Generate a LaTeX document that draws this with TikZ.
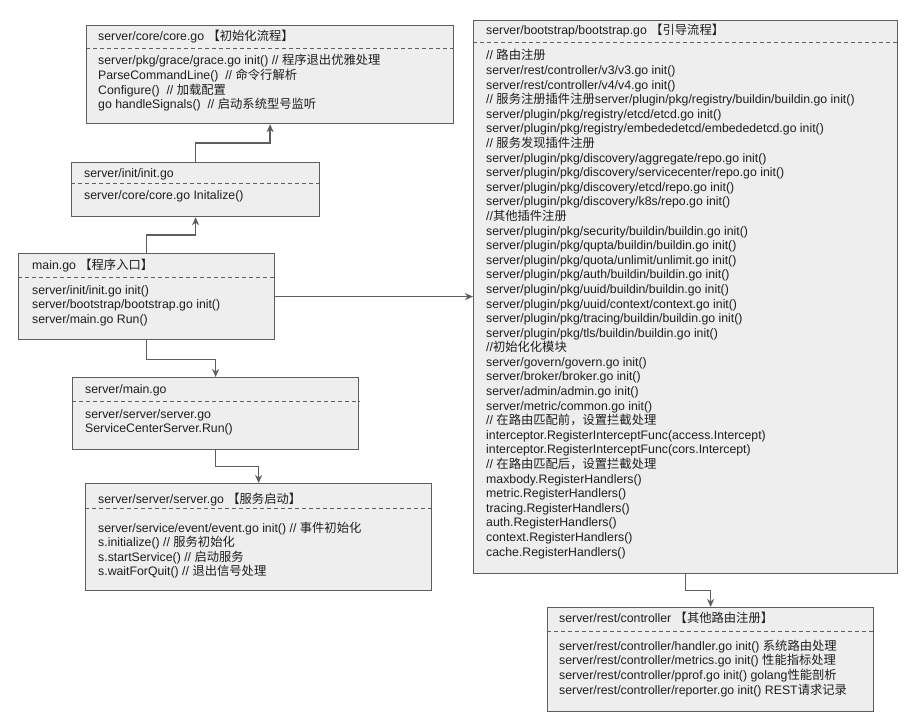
\documentclass[tikz,border=0pt]{standalone}
\usepackage{fontspec}
\setmainfont{Liberation Sans}
\newfontfamily\cjkfont{Noto Sans CJK SC}
\newcommand\zh[1]{{\cjkfont #1}}
\usetikzlibrary{arrows.meta,calc}
\definecolor{boxfill}{HTML}{EEEEEE}
\definecolor{boxline}{HTML}{5E5E5E}
\definecolor{txtcol}{HTML}{1E1E1E}
\newcommand\umlbox[6]{%
  \node[ubox, minimum width=#4pt, minimum height=#5pt] (#1) at (#2,#3) {};
  \draw[divider] ($(#1.north west)+(0,#6)$) -- ($(#1.north east)+(0,#6)$);}
\begin{document}
\begin{tikzpicture}[x=1pt,y=-1pt,
  ubox/.style={draw=boxline, fill=boxfill, line width=1.2pt, rectangle, inner sep=0pt, anchor=north west},
  divider/.style={draw=boxline, line width=1pt, dash pattern=on 4pt off 3pt},
  txt/.style={anchor=west, inner sep=0pt, text height=9pt, text depth=3pt, text=txtcol, font=\fontsize{12.3}{14.6}\selectfont},
  conn/.style={draw=boxline, line width=1.3pt, -{Stealth[length=8pt,width=7pt,inset=2.5pt]}}]
\useasboundingbox (0,0) rectangle (917,719);

% boxes
\umlbox{core}{86}{25}{367}{98}{24}
\umlbox{init}{71}{162}{248}{54}{22}
\umlbox{main}{18}{253}{256}{86}{24}
\umlbox{smain}{72}{377}{286}{72}{24}
\umlbox{srv}{85}{483}{346}{107}{25}
\umlbox{boot}{473}{20}{424}{553}{23}
\umlbox{ctrl}{547}{607}{326}{104}{24}

% core
\node[txt] (core-t) at (98,38) {server/core/core.go \zh{【初始化流程】}};
\foreach \t [count=\i from 0] in {
  {server/pkg/grace/grace.go init() // \zh{程序退出优雅处理}},
  {ParseCommandLine()\ \ // \zh{命令行解析}},
  {Configure()\ \ // \zh{加载配置}},
  {go handleSignals()\ \ // \zh{启动系统型号监听}}}
  \node[txt] (core-b\i) at ({98},{62+14.6*\i}) {\t};

% init
\node[txt] (init-t) at (84,175) {server/init/init.go};
\node[txt] (init-b0) at (84,197) {server/core/core.go Initalize()};

% main
\node[txt] (main-t) at (32,266) {main.go \zh{【程序入口】}};
\foreach \t [count=\i from 0] in {
  {server/init/init.go init()},
  {server/bootstrap/bootstrap.go init()},
  {server/main.go Run()}}
  \node[txt] (main-b\i) at ({32},{291+14.6*\i}) {\t};

% server/main.go
\node[txt] (smain-t) at (85,390) {server/main.go};
\foreach \t [count=\i from 0] in {
  {server/server/server.go},
  {ServiceCenterServer.Run()}}
  \node[txt] (smain-b\i) at ({85},{415+14.6*\i}) {\t};

% server.go
\node[txt] (srv-t) at (98,500) {server/server/server.go \zh{【服务启动】}};
\foreach \t [count=\i from 0] in {
  {server/service/event/event.go init() // \zh{事件初始化}},
  {s.initialize() // \zh{服务初始化}},
  {s.startService() // \zh{启动服务}},
  {s.waitForQuit() // \zh{退出信号处理}}}
  \node[txt] (srv-b\i) at ({98},{529+14.5*\i}) {\t};

% bootstrap
\node[txt] (boot-t) at (486,32) {server/bootstrap/bootstrap.go \zh{【引导流程】}};
\foreach \t [count=\i from 0] in {
  {// \zh{路由注册}},
  {server/rest/controller/v3/v3.go init()},
  {server/rest/controller/v4/v4.go init()},
  {// \zh{服务注册插件注册}server/plugin/pkg/registry/buildin/buildin.go init()},
  {server/plugin/pkg/registry/etcd/etcd.go init()},
  {server/plugin/pkg/registry/embededetcd/embededetcd.go init()},
  {// \zh{服务发现插件注册}},
  {server/plugin/pkg/discovery/aggregate/repo.go init()},
  {server/plugin/pkg/discovery/servicecenter/repo.go init()},
  {server/plugin/pkg/discovery/etcd/repo.go init()},
  {server/plugin/pkg/discovery/k8s/repo.go init()},
  {//\zh{其他插件注册}},
  {server/plugin/pkg/security/buildin/buildin.go init()},
  {server/plugin/pkg/qupta/buildin/buildin.go init()},
  {server/plugin/pkg/quota/unlimit/unlimit.go init()},
  {server/plugin/pkg/auth/buildin/buildin.go init()},
  {server/plugin/pkg/uuid/buildin/buildin.go init()},
  {server/plugin/pkg/uuid/context/context.go init()},
  {server/plugin/pkg/tracing/buildin/buildin.go init()},
  {server/plugin/pkg/tls/buildin/buildin.go init()},
  {//\zh{初始化化模块}},
  {server/govern/govern.go init()},
  {server/broker/broker.go init()},
  {server/admin/admin.go init()},
  {server/metric/common.go init()},
  {// \zh{在路由匹配前，设置拦截处理}},
  {interceptor.RegisterInterceptFunc(access.Intercept)},
  {interceptor.RegisterInterceptFunc(cors.Intercept)},
  {// \zh{在路由匹配后，设置拦截处理}},
  {maxbody.RegisterHandlers()},
  {metric.RegisterHandlers()},
  {tracing.RegisterHandlers()},
  {auth.RegisterHandlers()},
  {context.RegisterHandlers()},
  {cache.RegisterHandlers()}}
  \node[txt] (boot-b\i) at ({486},{57+14.59*\i}) {\t};

% controller
\node[txt] (ctrl-t) at (559,619) {server/rest/controller \zh{【其他路由注册】}};
\foreach \t [count=\i from 0] in {
  {server/rest/controller/handler.go init() \zh{系统路由处理}},
  {server/rest/controller/metrics.go init() \zh{性能指标处理}},
  {server/rest/controller/pprof.go init() golang\zh{性能剖析}},
  {server/rest/controller/reporter.go init() REST\zh{请求记录}}}
  \node[txt] (ctrl-b\i) at ({559},{647+14.7*\i}) {\t};

% connectors
\draw[conn] (init.north) -- ++(0,-19) -| (core.south);
\draw[conn] (main.north) -- ++(0,-18) -| (init.south);
\draw[conn] (main.east) -- (main.east -| boot.west);
\draw[conn] (main.south) -- ++(0,19) -| (smain.north);
\draw[conn] (smain.south) -- ++(0,16) -| (srv.north);
\draw[conn] (boot.south) -- ++(0,16) -| (ctrl.north);
\end{tikzpicture}
\end{document}
